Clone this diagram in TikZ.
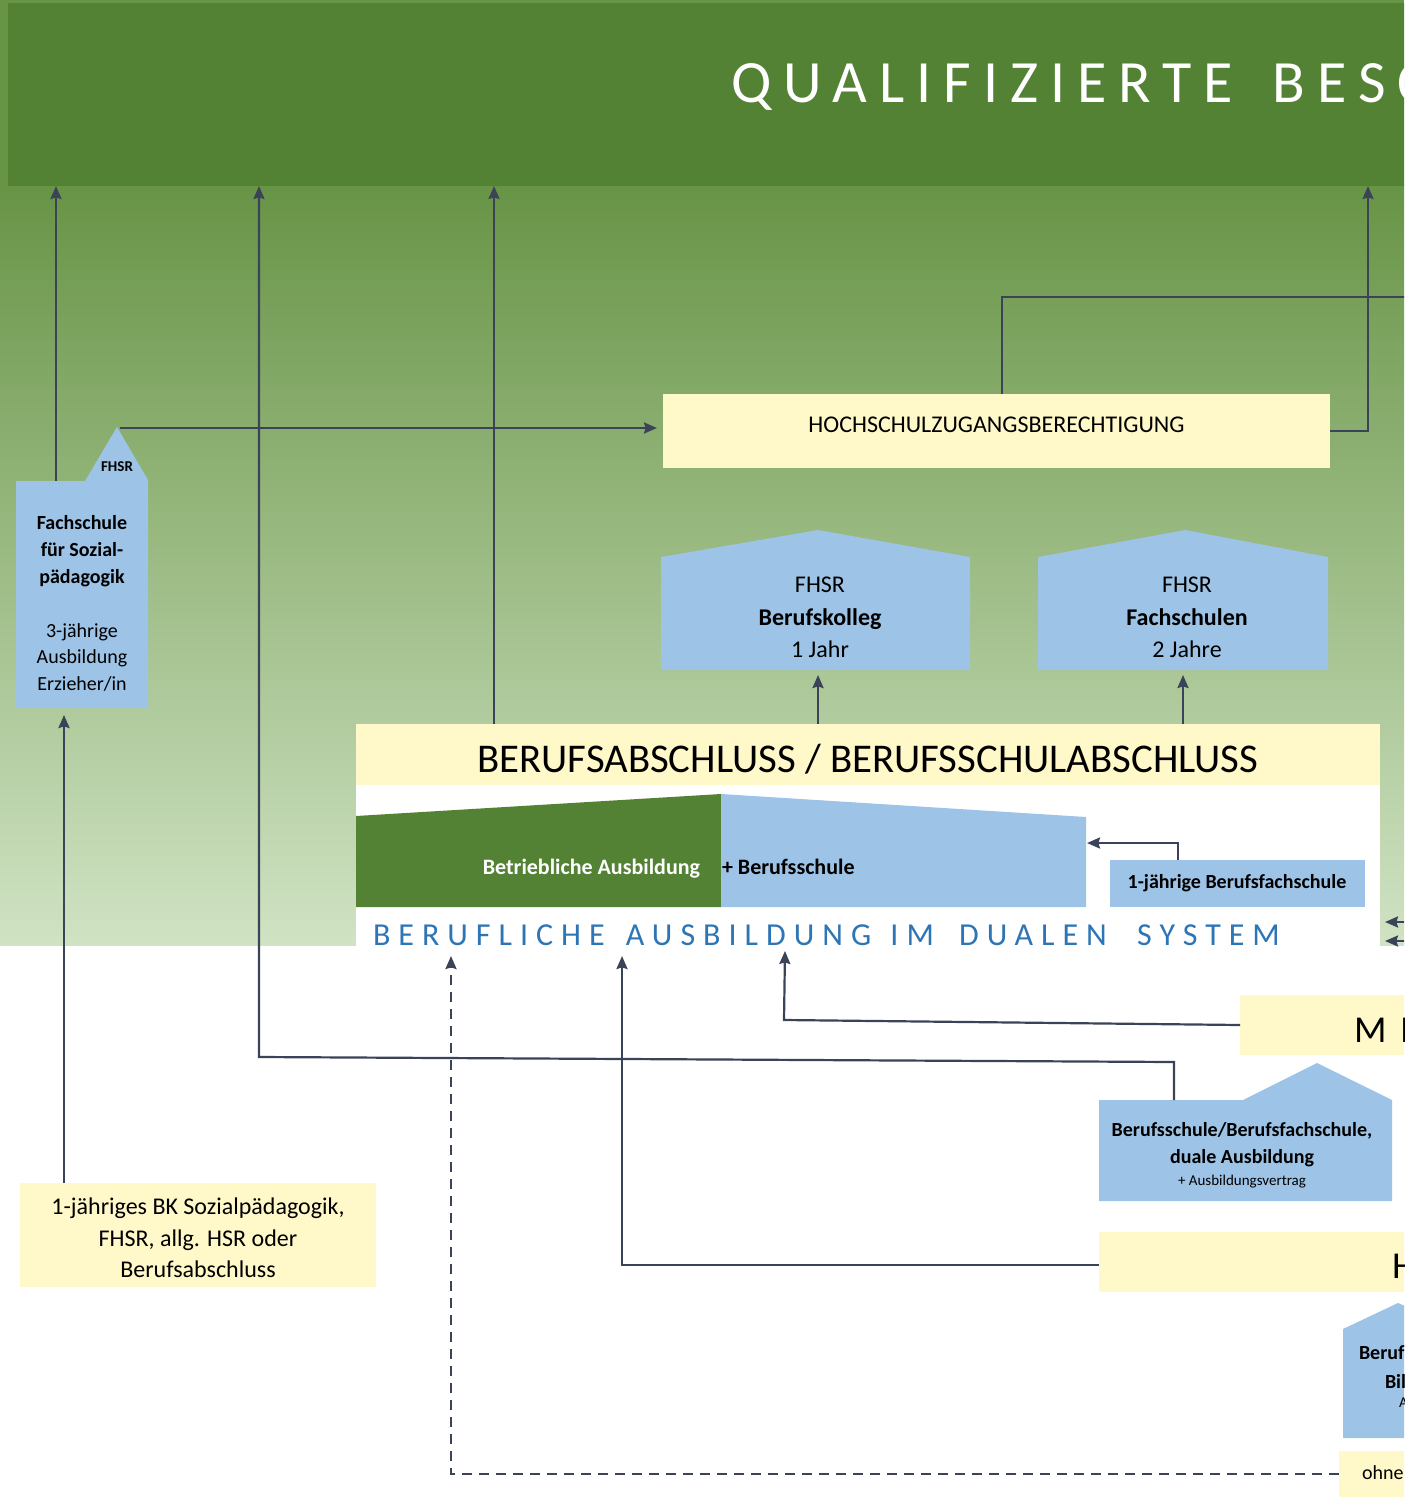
\documentclass[tikz,border=0pt]{standalone}
\usepackage{fontspec}
\setmainfont{Carlito}
\newfontfamily\titlefont[LetterSpace=20]{Carlito}
\newfontfamily\dualfont[LetterSpace=25]{Carlito}
\newfontfamily\mifont[LetterSpace=36]{Carlito}
\usetikzlibrary{arrows.meta}
\definecolor{dkgreen}{HTML}{548235}
\definecolor{gtop}{HTML}{689446}
\definecolor{gbot}{HTML}{D0E3C4}
\definecolor{ycol}{HTML}{FFF8C8}
\definecolor{bcol}{HTML}{9DC3E6}
\definecolor{acol}{HTML}{3A4357}
\definecolor{tblue}{HTML}{2E75B6}
\tikzset{
  ybox/.style={fill=ycol, inner sep=0pt, outer sep=0pt, anchor=north west},
  bbox/.style={fill=bcol, inner sep=0pt, outer sep=0pt, anchor=north west},
  txt/.style={inner sep=0pt, outer sep=0pt},
  conn/.style={draw=acol, line width=1.1pt},
  arr/.style={conn, -{Stealth[length=6.5pt,width=5.5pt,inset=0.8pt]}},
  dsh/.style={arr, dash pattern=on 5pt off 3.5pt},
  fsb/.style={txt, anchor=base, font=\bfseries\fontsize{10}{12}\selectfont},
  fsr/.style={txt, anchor=base, font=\fontsize{10}{12}\selectfont},
  hs/.style={txt, anchor=base, font=\fontsize{12}{14}\selectfont},
  hsb/.style={txt, anchor=base, font=\bfseries\fontsize{12}{14}\selectfont},
}
\begin{document}
\begin{tikzpicture}[x=0.5pt,y=-0.5pt]
\useasboundingbox (0,0) rectangle (1404,1497);
\clip (0,0) rectangle (1404,1497);
\fill[white] (0,0) rectangle (1404,1497);
% backgrounds
\shade[top color=gtop,bottom color=gbot] (0,186) rectangle (1404,945);
\fill[gtop] (0,0) rectangle (1404,186);
\node[fill=dkgreen, inner sep=0pt, outer sep=0pt, anchor=north west,
      minimum width=706pt, minimum height=91.5pt] (band) at (8,3) {};
\node[txt, anchor=base west, text=white, font={\titlefont\fontsize{30}{36}\selectfont}]
  (title) at (731,103) {QUALIFIZIERTE\hspace{7pt} BESC};
\fill[white] (356,724) rectangle (1380,946);

% HZB
\node[ybox, minimum width=333.5pt, minimum height=37pt] (hzb) at (663,394) {};
\node[txt, anchor=base, font=\fontsize{12}{14}\selectfont] (hzbt) at (996.5,432) {HOCHSCHULZUGANGSBERECHTIGUNG};

% Fachschule Sozialpaedagogik
\fill[bcol] (16,481) -- (85,481) -- (117,427) -- (148,480) -- (148,708) -- (16,708) -- cycle;
\node[txt, anchor=base, font=\bfseries\fontsize{7.5}{9}\selectfont] (fhsr0) at (117,472) {FHSR};
\node[fsb] (fs1) at (82,529) {Fachschule};
\node[fsb] (fs2) at (82,556) {für Sozial-};
\node[fsb] (fs3) at (82,583) {pädagogik};
\node[fsr] (fs4) at (82,637) {3-jährige};
\node[fsr] (fs5) at (82,663) {Ausbildung};
\node[fsr] (fs6) at (82,690) {Erzieher/in};
\coordinate (fspeak) at (120,428);
\coordinate (fstop) at (56,481);
\coordinate (fsbot) at (64,709);

% Houses FHSR
\fill[bcol] (661,670) -- (661,557) -- (818,530) -- (970,557) -- (970,670) -- cycle;
\node[hs] (bk1) at (820,592) {FHSR};
\node[hsb] (bk2) at (820,625) {Berufskolleg};
\node[hs] (bk3) at (820,657) {1 Jahr};
\coordinate (bkbot) at (818,670);
\fill[bcol] (1038,670) -- (1038,557) -- (1185,530) -- (1328,557) -- (1328,670) -- cycle;
\node[hs] (fh1) at (1187,592) {FHSR};
\node[hsb] (fh2) at (1187,625) {Fachschulen};
\node[hs] (fh3) at (1187,657) {2 Jahre};
\coordinate (fhbot) at (1183,670);

% Berufsabschluss
\node[ybox, minimum width=512pt, minimum height=30.5pt] (ba) at (356,724) {};
\node[txt, anchor=base, font=\fontsize{20.4}{24}\selectfont] (bat) at (868,772) {BERUFSABSCHLUSS / BERUFSSCHULABSCHLUSS};
\coordinate (bax) at (494,724);

% dual system
\fill[dkgreen] (356,907) -- (356,816) -- (721,794) -- (721,907) -- cycle;
\fill[bcol] (721,907) -- (721,794) -- (1086,817) -- (1086,907) -- cycle;
\node[txt, anchor=base east, text=white, font=\bfseries\fontsize{11}{13}\selectfont] (betr) at (700,874) {Betriebliche Ausbildung};
\node[txt, anchor=base west, font=\bfseries\fontsize{11}{13}\selectfont] (bsch) at (722,874) {+ Berufsschule};
\coordinate (bsr) at (1087,843);
\node[bbox, minimum width=127.5pt, minimum height=23.5pt] (bfs) at (1110,860) {};
\node[txt, anchor=base, font=\bfseries\fontsize{10}{12}\selectfont] (bfst) at (1237,888) {1-jährige Berufsfachschule};
\node[txt, anchor=base west, text=tblue, font={\dualfont\fontsize{16}{19}\selectfont}] (dual) at (373,945)
  {BERUFLICHE\hspace{3pt} AUSBILDUNG\hspace{2pt} IM\hspace{5pt} DUALEN\hspace{7.5pt} SYSTEM};
\coordinate (t1) at (451,956);
\coordinate (t2) at (622,956);
\coordinate (t3) at (785,951);
\coordinate (r1) at (1420,922);
\coordinate (r1e) at (1385,922);
\coordinate (r2) at (1420,941);
\coordinate (r2e) at (1385,941);

% MI box
\node[ybox, minimum width=100pt, minimum height=30pt] (mi) at (1240,995) {};
\node[txt, anchor=base west, font={\mifont\fontsize{19}{22}\selectfont}] (mit) at (1354,1042) {MI};
\coordinate (k3) at (784,1020);

% Berufsschule house
\fill[bcol] (1099,1201) -- (1099,1100) -- (1243,1100) -- (1317,1063) -- (1392,1100) -- (1392,1201) -- cycle;
\node[txt, anchor=base, font=\bfseries\fontsize{10}{12}\selectfont] (bs1) at (1242,1136) {Berufsschule/Berufsfachschule,};
\node[txt, anchor=base, font=\bfseries\fontsize{10}{12}\selectfont] (bs2) at (1242,1163) {duale Ausbildung};
\node[txt, anchor=base, font=\fontsize{7.5}{9}\selectfont] (bs3) at (1242,1185) {+ Ausbildungsvertrag};
\coordinate (bstop) at (1174,1100);
\coordinate (k1) at (1174,1062);
\coordinate (k2) at (259,1057);

% H box
\node[ybox, minimum width=160pt, minimum height=30pt] (hb) at (1099,1232) {};
\node[txt, anchor=base west, font=\fontsize{19}{22}\selectfont] (hbt) at (1392,1278) {H};

% bottom right house
\fill[bcol] (1343,1438) -- (1343,1329) -- (1398,1303) -- (1460,1329) -- (1460,1438) -- cycle;
\node[txt, anchor=base west, font=\bfseries\fontsize{10}{12}\selectfont] (br1) at (1359,1359) {Beruf};
\node[txt, anchor=base west, font=\bfseries\fontsize{10}{12}\selectfont] (br2) at (1385,1388) {Bil};
\node[txt, anchor=base west, font=\fontsize{7.5}{9}\selectfont] (br3) at (1399,1407) {A};

% ohne box
\node[ybox, minimum width=50pt, minimum height=23pt] (ohne) at (1339,1451) {};
\node[txt, anchor=base west, font=\fontsize{10}{12}\selectfont] (ohnet) at (1362,1479) {ohne};

% bottom-left box
\node[ybox, minimum width=178pt, minimum height=52pt] (bl) at (20,1183) {};
\node[txt, anchor=base, font=\fontsize{12}{14}\selectfont] (bl1) at (198,1214) {1-jähriges BK Sozialpädagogik,};
\node[txt, anchor=base, font=\fontsize{12}{14}\selectfont] (bl2) at (198,1246) {FHSR, allg. HSR oder};
\node[txt, anchor=base, font=\fontsize{12}{14}\selectfont] (bl3) at (198,1277) {Berufsabschluss};
\coordinate (blx) at (64,1183);

% connectors
\coordinate (hr) at (1368,431);
\coordinate (hzbtop) at (1002,394);
\coordinate (offr) at (1420,297);
\draw[arr] (fstop) -- (fstop |- band.south);
\draw[arr] (bstop) -- (k1) -- (k2) -- (k2 |- band.south);
\draw[arr] (bax) -- (bax |- band.south);
\draw[arr] (hzb.east) -| (hr |- band.south);
\draw[conn] (hzbtop) |- (offr);
\draw[arr, shorten >=3pt] (fspeak) -- (fspeak -| hzb.west);
\draw[arr, shorten >=2.5pt] (bkbot |- ba.north) -- (bkbot);
\draw[arr, shorten >=2.5pt] (fhbot |- ba.north) -- (fhbot);
\draw[arr, shorten >=3pt] (blx) -- (fsbot);
\draw[arr] ([xshift=-29.75pt]bfs.north) |- (bsr);
\draw[arr] (mi.west) -- (k3) -- (t3);
\draw[arr] ([yshift=-1.5pt]hb.west) -| (t2);
\draw[dsh] (ohne.west) -| (t1);
\draw[arr] (r1) -- (r1e);
\draw[arr] (r2) -- (r2e);
\end{tikzpicture}
\end{document}
